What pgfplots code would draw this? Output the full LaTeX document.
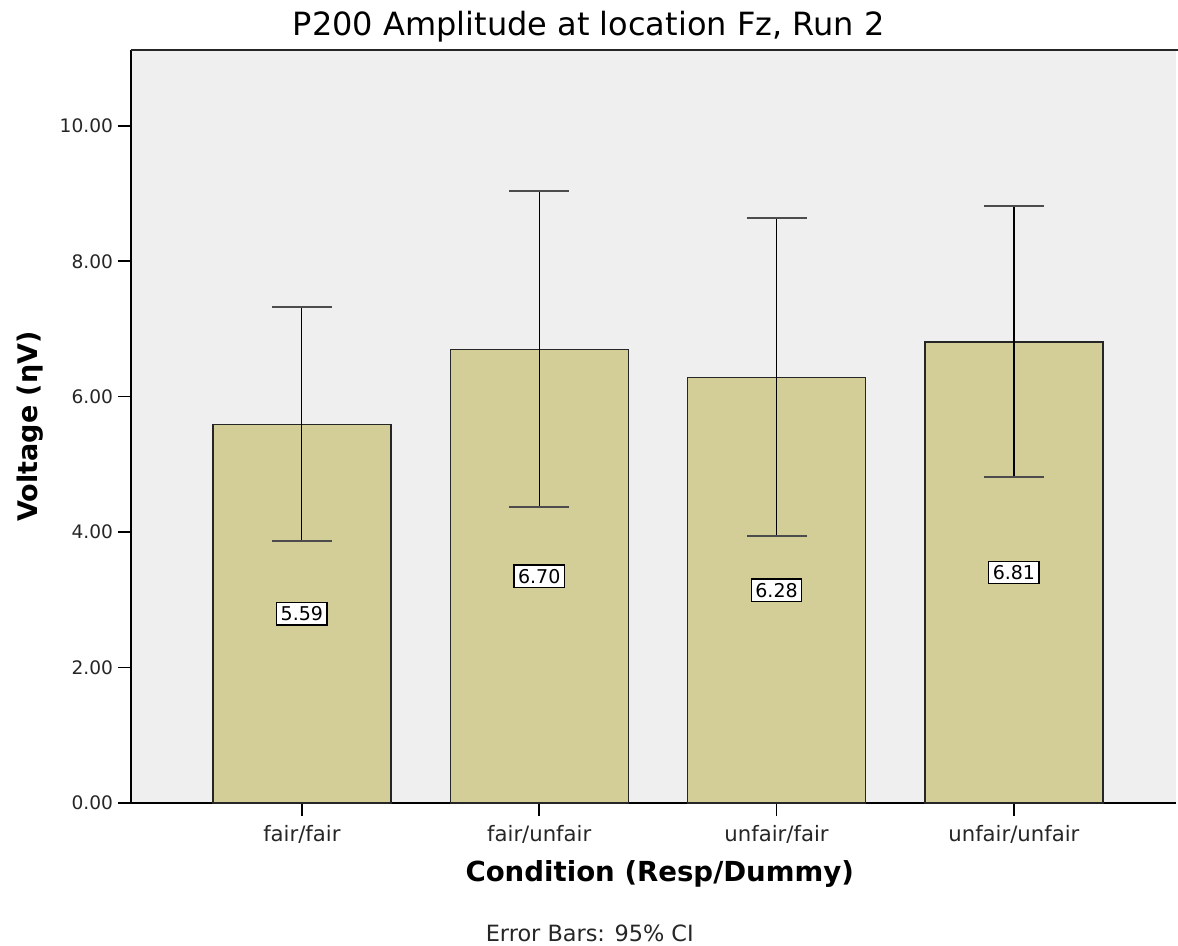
\documentclass[border=0pt]{standalone}
\usepackage{fontspec}
\setmainfont{DejaVu Sans}
\usepackage{pgfplots}
\usepackage{pgfplotstable}
\pgfplotsset{compat=1.18}

\definecolor{barfill}{RGB}{211,206,152}
\definecolor{plotbg}{RGB}{239,239,239}

\pgfplotstableread{
x  y     hi    lo    lab
0  5.59  7.32  3.87  5.59
1  6.70  9.04  4.37  6.70
2  6.28  8.64  3.94  6.28
3  6.81  8.81  4.82  6.81
}\ptable

\begin{document}
\begin{tikzpicture}
\path[use as bounding box] (-65.5pt,-71.5pt) rectangle (523.5pt,401.5pt);
\begin{axis}[
  at={(0,0)}, anchor=south west,
  scale only axis,
  width=522.5pt, height=376.5pt,
  xmin=-0.72, xmax=3.683,
  ymin=0, ymax=11.12,
  axis background/.style={fill=plotbg},
  axis x line*=bottom, axis y line*=left,
  axis line style={line width=1pt, -},
  xtick=data,
  xticklabels={fair/fair, fair/unfair, unfair/fair, unfair/unfair},
  ytick={0,2,4,6,8,10},
  yticklabel={\pgfmathprintnumber[fixed,fixed zerofill,precision=2]{\tick}},
  /pgf/number format/assume math mode=true,
  tick style={black, line width=0.8pt},
  major tick length=6.5pt,
  tick align=outside,
  ticklabel style={font=\fontsize{9.3}{11}\selectfont, text=black!85},
  xticklabel style={yshift=-1pt, font=\fontsize{10.6}{12}\selectfont},
  yticklabel style={xshift=1pt},
  clip=false,
]
\addplot[ybar, bar width=0.75, fill=barfill, draw=black!85, line width=0.7pt,
  error bars/.cd, y dir=both, y explicit,
  error bar style={black, line width=0.6pt},
  error mark options={rotate=90, mark size=15pt, line width=1pt, black!70}]
  table[x=x, y=y,
    y error plus expr=\thisrow{hi}-\thisrow{y},
    y error minus expr=\thisrow{y}-\thisrow{lo}] {\ptable};

\addplot[only marks, mark=none,
  nodes near coords, point meta=explicit symbolic,
  nodes near coords align={center},
  nodes near coords style={fill=white, draw=black, line width=0.7pt,
    inner sep=2pt, font=\fontsize{9.5}{11}\selectfont, anchor=center}]
  table[x=x, y expr=\thisrow{y}/2, meta=lab] {\ptable};

\draw[line width=1pt, black!85] (axis description cs:0,1) -- (axis description cs:1.01,1);

\node[font=\fontsize{16}{19}\selectfont] at (axis description cs:0.438,1.031) {P200 Amplitude at location Fz, Run 2};
\node[font=\bfseries\fontsize{13.8}{16}\selectfont] at (axis description cs:0.506,-0.094) {Condition (Resp/Dummy)};
\node[font=\bfseries\fontsize{13.5}{16}\selectfont, rotate=90] at (axis description cs:-0.0967,0.5) {Voltage (ηV)};
\node[font=\fontsize{11.2}{13}\selectfont, text=black!85] at (axis description cs:0.439,-0.1726) {Error Bars: 95\% CI};
\end{axis}
\end{tikzpicture}
\end{document}
